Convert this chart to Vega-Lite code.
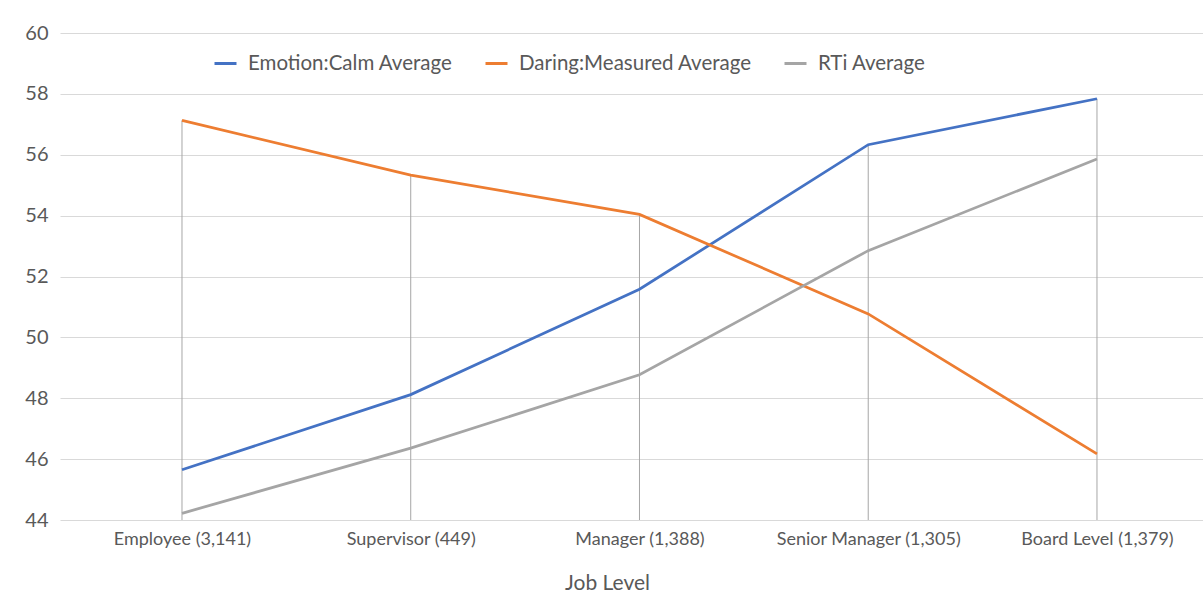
{
  "$schema": "https://vega.github.io/schema/vega-lite/v6.json",
  "width": 1143,
  "height": 487,
  "autosize": {"type": "none"},
  "padding": {"left": 60, "top": 33, "right": 0, "bottom": 90},
  "background": "white",
  "config": {"view": {"stroke": null}, "font": "Lato", "text": {"color": "#595959"}},
  "data": {
    "values": [
      {"job": "Employee (3,141)", "series": "Emotion:Calm Average", "value": 45.65},
      {"job": "Supervisor (449)", "series": "Emotion:Calm Average", "value": 48.12},
      {"job": "Manager (1,388)", "series": "Emotion:Calm Average", "value": 51.58},
      {"job": "Senior Manager (1,305)", "series": "Emotion:Calm Average", "value": 56.33},
      {"job": "Board Level (1,379)", "series": "Emotion:Calm Average", "value": 57.84},
      {"job": "Employee (3,141)", "series": "Daring:Measured Average", "value": 57.13},
      {"job": "Supervisor (449)", "series": "Daring:Measured Average", "value": 55.33},
      {"job": "Manager (1,388)", "series": "Daring:Measured Average", "value": 54.04},
      {"job": "Senior Manager (1,305)", "series": "Daring:Measured Average", "value": 50.77},
      {"job": "Board Level (1,379)", "series": "Daring:Measured Average", "value": 46.17},
      {"job": "Employee (3,141)", "series": "RTi Average", "value": 44.22},
      {"job": "Supervisor (449)", "series": "RTi Average", "value": 46.36},
      {"job": "Manager (1,388)", "series": "RTi Average", "value": 48.77},
      {"job": "Senior Manager (1,305)", "series": "RTi Average", "value": 52.85},
      {"job": "Board Level (1,379)", "series": "RTi Average", "value": 55.86}
    ]
  },
  "encoding": {
    "x": {
      "field": "job",
      "type": "ordinal",
      "sort": ["Employee (3,141)", "Supervisor (449)", "Manager (1,388)", "Senior Manager (1,305)", "Board Level (1,379)"],
      "scale": {"type": "point", "padding": 0.4984, "align": 0.535},
      "axis": {
        "title": "Job Level",
        "labelAngle": 0,
        "domain": false,
        "ticks": false,
        "grid": false,
        "labelFont": "Lato",
        "labelFontSize": 18,
        "labelColor": "#595959",
        "labelPadding": 10,
        "labelLimit": 0,
        "titleFont": "Lato",
        "titleFontSize": 21,
        "titleFontWeight": "normal",
        "titleColor": "#595959",
        "titlePadding": 24,
        "titleX": 547
      }
    }
  },
  "layer": [
    {
      "mark": {"type": "rule", "color": "#A6A6A6", "strokeWidth": 1},
      "encoding": {
        "y": {
          "aggregate": "max",
          "field": "value",
          "type": "quantitative",
          "scale": {"domain": [44, 60], "nice": false, "zero": false},
          "axis": {
            "title": null,
            "values": [44, 46, 48, 50, 52, 54, 56, 58, 60],
            "grid": true,
            "gridColor": "#D9D9D9",
            "gridWidth": 1,
            "domain": false,
            "ticks": false,
            "labelFont": "Lato",
            "labelFontSize": 20,
            "labelColor": "#595959",
            "labelPadding": 12
          }
        },
        "y2": {"datum": 44}
      }
    },
    {
      "mark": {"type": "line", "strokeWidth": 2.75},
      "encoding": {
        "y": {"field": "value", "type": "quantitative"},
        "color": {
          "field": "series",
          "type": "nominal",
          "scale": {
            "domain": ["Emotion:Calm Average", "Daring:Measured Average", "RTi Average"],
            "range": ["#4472C4", "#ED7D31", "#A5A5A5"]
          },
          "legend": {
            "title": null,
            "orient": "none",
            "legendX": 153,
            "legendY": 18,
            "direction": "horizontal",
            "symbolType": "stroke",
            "symbolStrokeWidth": 3,
            "symbolSize": 484,
            "labelFont": "Lato",
            "labelFontSize": 20.5,
            "labelColor": "#595959",
            "labelOffset": 10,
            "labelLimit": 0,
            "columnPadding": 26
          }
        }
      }
    }
  ]
}
